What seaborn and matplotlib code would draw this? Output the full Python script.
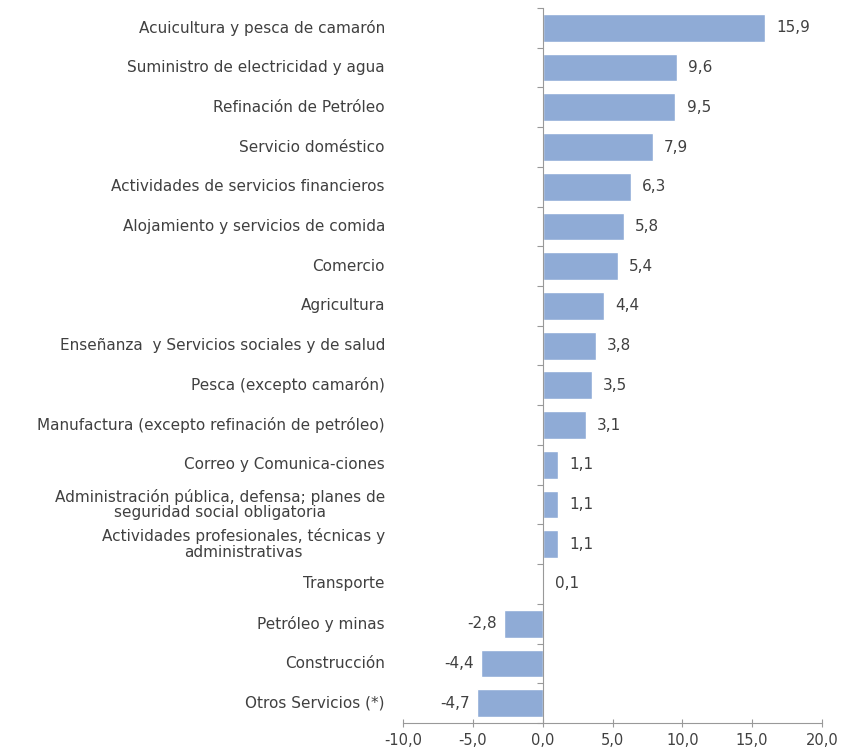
import matplotlib
matplotlib.use("Agg")
import matplotlib.pyplot as plt
import matplotlib.transforms as mtransforms
import seaborn as sns
import pandas as pd
import numpy as np

categories = [
    "Acuicultura y pesca de camarón",
    "Suministro de electricidad y agua",
    "Refinación de Petróleo",
    "Servicio doméstico",
    "Actividades de servicios financieros",
    "Alojamiento y servicios de comida",
    "Comercio",
    "Agricultura",
    "Enseñanza  y Servicios sociales y de salud",
    "Pesca (excepto camarón)",
    "Manufactura (excepto refinación de petróleo)",
    "Correo y Comunica-ciones",
    "Administración pública, defensa; planes de\nseguridad social obligatoria",
    "Actividades profesionales, técnicas y\nadministrativas",
    "Transporte",
    "Petróleo y minas",
    "Construcción",
    "Otros Servicios (*)",
]
values = [15.9, 9.6, 9.5, 7.9, 6.3, 5.8, 5.4, 4.4, 3.8, 3.5, 3.1, 1.1, 1.1, 1.1, 0.1, -2.8, -4.4, -4.7]
xticks = [-10, -5, 0, 5, 10, 15, 20]

df = pd.DataFrame({"cat": categories, "val": values})

sns.set_theme(style="white")
plt.rcParams["font.family"] = ["DejaVu Sans"]

fig = plt.figure(figsize=(8.43, 7.54), dpi=100)
ax = fig.add_axes([403/843, 1-723/754, (822-403)/843, (723-8)/754])

sns.barplot(data=df, x="val", y="cat", orient="h", color="#8FABD6",
            width=0.7, ax=ax, saturation=1)

ax.set_xlim(-10, 20)
ax.set_ylim(len(categories)-0.5, -0.5)
ax.set_xlabel("")
ax.set_ylabel("")

gray = "#404040"
ax.set_xticks(xticks)
ax.set_xticklabels([f"{t:.1f}".replace(".", ",") for t in xticks], fontsize=10.5, color=gray)
ax.tick_params(axis="x", bottom=True, direction="inout", length=6, color="#999999", width=0.8, pad=4)

# y ticks at category boundaries
ax.set_yticks(np.arange(-0.5, len(categories), 1))
ax.set_yticklabels([])
ax.tick_params(axis="y", left=True, direction="out", length=4, color="#999999", width=0.8)

for s in ["top", "right"]:
    ax.spines[s].set_visible(False)
ax.spines["left"].set_position(("data", 0))
ax.spines["left"].set_color("#999999")
ax.spines["bottom"].set_color("#999999")
ax.spines["left"].set_linewidth(0.8)
ax.spines["bottom"].set_linewidth(0.8)

trans = mtransforms.blended_transform_factory(ax.transAxes, ax.transData)
for i, (c, v) in enumerate(zip(categories, values)):
    ax.text(-0.043, i, c, transform=trans, ha="right", va="center",
            multialignment="center", fontsize=11, color=gray, linespacing=1.05)
    lab = f"{v:.1f}".replace(".", ",")
    if v >= 0:
        ax.text(v + 0.8, i, lab, ha="left", va="center", fontsize=11, color=gray)
    else:
        ax.text(v - 0.5, i, lab, ha="right", va="center", fontsize=11, color=gray)

fig.savefig("out.png", dpi=100)
